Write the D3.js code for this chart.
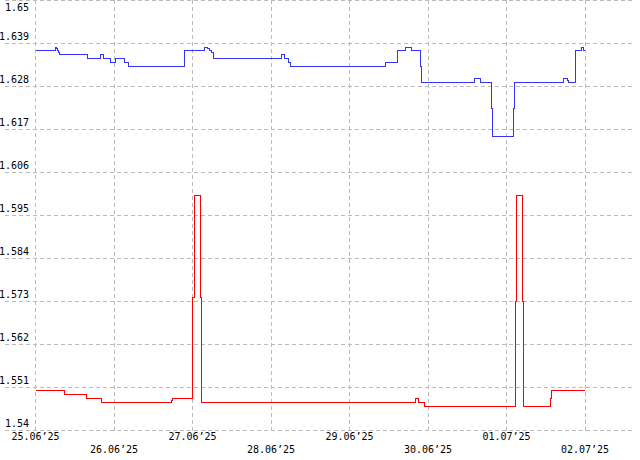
<!DOCTYPE html>
<html>
<head>
<meta charset="utf-8">
<script src="https://cdn.jsdelivr.net/npm/d3@7"></script>
<style>
  html, body { margin: 0; padding: 0; background: #fff; }
  svg { display: block; }
  text { font-family: "DejaVu Sans Mono", monospace; font-size: 10px; fill: #000; }
</style>
</head>
<body>
<svg id="chart" width="640" height="460"></svg>
<script>
// ---- data ----
const blueTimes = ["2025-06-25 00:00","2025-06-25 06:03","2025-06-25 06:24","2025-06-25 06:42","2025-06-25 07:00","2025-06-25 07:18",
  "2025-06-25 15:58","2025-06-25 19:56","2025-06-25 20:42","2025-06-25 23:00","2025-06-26 00:36","2025-06-26 03:18","2025-06-26 04:24",
  "2025-06-26 21:30","2025-06-27 03:48","2025-06-27 04:36","2025-06-27 05:12","2025-06-27 05:48","2025-06-27 06:24",
  "2025-06-28 03:18","2025-06-28 04:00","2025-06-28 05:24","2025-06-28 05:54","2025-06-29 10:54","2025-06-29 14:36",
  "2025-06-29 17:06","2025-06-29 18:54","2025-06-29 21:48","2025-06-29 22:00","2025-06-30 14:12","2025-06-30 16:00",
  "2025-06-30 19:24","2025-06-30 19:42","2025-07-01 02:12","2025-07-01 02:24","2025-07-01 17:24","2025-07-01 18:36",
  "2025-07-01 19:00","2025-07-01 21:00","2025-07-01 23:00","2025-07-01 23:30","2025-07-02 00:00"];
const blueValues = [1.6372,1.6381,1.6376,1.6372,1.6368,1.6363,
  1.6352,1.6362,1.6352,1.6341,1.6352,1.6341,1.6331,
  1.6372,1.6381,1.6376,1.6372,1.6368,1.6352,
  1.6362,1.6352,1.6341,1.6331,1.6341,1.6372,
  1.6381,1.6372,1.6331,1.6290,1.6300,1.6290,
  1.6223,1.6152,1.6223,1.6290,1.6300,1.6295,
  1.6290,1.6372,1.6381,1.6372,1.6372];

const redTimes = ["2025-06-25 00:00","2025-06-25 09:00","2025-06-25 15:39","2025-06-25 20:06","2025-06-26 17:30","2025-06-26 17:48",
  "2025-06-27 00:06","2025-06-27 00:33","2025-06-27 02:24","2025-06-27 02:42","2025-06-29 20:06","2025-06-29 21:00",
  "2025-06-29 22:54","2025-07-01 02:45","2025-07-01 03:00","2025-07-01 04:48","2025-07-01 05:06","2025-07-01 13:27",
  "2025-07-01 13:45","2025-07-02 00:00"];
const redValues = [1.5502,1.5492,1.5482,1.5472,1.5476,1.5482,
  1.5741,1.6000,1.5741,1.5472,1.5482,1.5472,
  1.5462,1.5730,1.6000,1.5730,1.5462,1.5482,
  1.5502,1.5502];

const yTicks = [1.54,1.551,1.562,1.573,1.584,1.595,1.606,1.617,1.628,1.639,1.65];
const xTickDates = ["2025-06-25","2025-06-26","2025-06-27","2025-06-28","2025-06-29","2025-06-30","2025-07-01","2025-07-02"];
const xTickLabels = ["25.06’25","26.06’25","27.06’25","28.06’25","29.06’25","30.06’25","01.07’25","02.07’25"];

// ---- chart ----
const svg = d3.select("#chart");
const parseT = d3.timeParse("%Y-%m-%d %H:%M");
const parseD = d3.timeParse("%Y-%m-%d");

const x = d3.scaleTime()
  .domain([parseD("2025-06-25"), parseD("2025-07-02")])
  .range([35.5, 585]);
const y = d3.scaleLinear().domain([1.54, 1.65]).range([430.5, 0.5]);

const gridColor = "#bbbbbb";
const fmt = d3.format(".3~f");

// horizontal grid
const gy = svg.append("g");
gy.selectAll("line").data(yTicks).join("line")
  .attr("x1", 5).attr("x2", 633)
  .attr("y1", d => Math.round(y(d) - 0.5) + 0.5).attr("y2", d => Math.round(y(d) - 0.5) + 0.5)
  .attr("stroke", gridColor).attr("stroke-dasharray", "4,3").attr("shape-rendering", "crispEdges");
gy.selectAll("text").data(yTicks).join("text")
  .attr("x", 29).attr("y", d => Math.max(y(d) - 3.5, 10.5))
  .attr("text-anchor", "end")
  .text(d => fmt(d));

// vertical grid
const xDates = xTickDates.map(parseD);
const gx = svg.append("g");
gx.selectAll("line").data(xDates).join("line")
  .attr("x1", d => Math.round(x(d) - 0.5) + 0.5).attr("x2", d => Math.round(x(d) - 0.5) + 0.5)
  .attr("y1", 0).attr("y2", 431)
  .attr("stroke", gridColor).attr("stroke-dasharray", "4,3").attr("shape-rendering", "crispEdges");
gx.selectAll("text").data(xDates).join("text")
  .attr("x", d => x(d))
  .attr("y", (d, i) => i % 2 === 0 ? 440 : 453)
  .attr("text-anchor", "middle")
  .text((d, i) => xTickLabels[i]);

// lines
const line = d3.line()
  .x(d => x(d.t))
  .y(d => y(d.v))
  .curve(d3.curveStepAfter);

const blue = blueTimes.map((t, i) => ({ t: parseT(t), v: blueValues[i] }));
const red = redTimes.map((t, i) => ({ t: parseT(t), v: redValues[i] }));

svg.append("path").datum(red).attr("d", line)
  .attr("fill", "none").attr("stroke", "#ff0000").attr("stroke-width", 1).attr("shape-rendering", "crispEdges");
svg.append("path").datum(blue).attr("d", line)
  .attr("fill", "none").attr("stroke", "#3333ff").attr("stroke-width", 1).attr("shape-rendering", "crispEdges");
</script>
</body>
</html>
